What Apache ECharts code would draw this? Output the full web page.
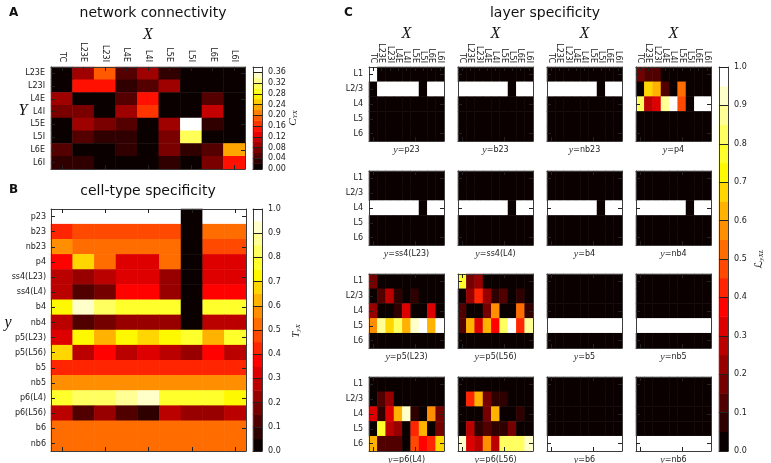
<!DOCTYPE html>
<html><head><meta charset="utf-8">
<script src="https://cdn.jsdelivr.net/npm/echarts@6/dist/echarts.min.js"></script>
<style>html,body{margin:0;padding:0;background:#fff}#c{width:771px;height:463px}</style>
</head><body><div id="c"></div>
<script>
// ---------- categories ----------
const xCats = ['TC','L23E','L23I','L4E','L4I','L5E','L5I','L6E','L6I'];
const yCatsA = ['L23E','L23I','L4E','L4I','L5E','L5I','L6E','L6I'];
const cellTypes = ['p23','b23','nb23','p4','ss4(L23)','ss4(L4)','b4','nb4','p5(L23)','p5(L56)','b5','nb5','p6(L4)','p6(L56)','b6','nb6'];
const layers = ['L1','L2/3','L4','L5','L6'];
const ticksA = [0,0.04,0.08,0.12,0.16,0.20,0.24,0.28,0.32,0.36];
const ticksUnit = [0,0.1,0.2,0.3,0.4,0.5,0.6,0.7,0.8,0.9,1.0];

// ---------- A: network connectivity C_YX (rows Y, cols X) ----------
const connectivity = [
  [0.003,0.095,0.180,0.055,0.087,0.028,0.002,0.003,0.004],
  [0.002,0.145,0.145,0.030,0.050,0.087,0.003,0.002,0.002],
  [0.095,0.002,0.003,0.055,0.145,0.002,0.001,0.045,0.003],
  [0.070,0.070,0.002,0.087,0.165,0.003,0.002,0.100,0.004],
  [0.003,0.097,0.070,0.050,0.002,0.087,0.370,0.030,0.005],
  [0.003,0.045,0.030,0.030,0.002,0.070,0.310,0.003,0.004],
  [0.040,0.002,0.003,0.030,0.002,0.070,0.025,0.045,0.235],
  [0.025,0.025,0.004,0.005,0.003,0.025,0.004,0.070,0.145]
];

// ---------- B: cell-type specificity T_yX (rows y, cols X) ----------
const cellTypeSpec = [
  [1.00,1.00,1.00,1.00,1.00,1.00,0.00,1.00,1.00],
  [0.40,0.47,0.47,0.47,0.47,0.47,0.00,0.52,0.52],
  [0.60,0.53,0.53,0.53,0.53,0.53,0.00,0.48,0.48],
  [0.38,0.67,0.53,0.32,0.32,0.53,0.00,0.32,0.32],
  [0.28,0.20,0.26,0.32,0.32,0.20,0.00,0.32,0.32],
  [0.28,0.10,0.16,0.38,0.38,0.20,0.00,0.38,0.38],
  [0.72,0.92,0.83,0.78,0.78,0.78,0.00,0.76,0.76],
  [0.28,0.10,0.16,0.23,0.23,0.23,0.00,0.27,0.27],
  [0.32,0.74,0.62,0.74,0.68,0.73,0.78,0.63,0.75],
  [0.66,0.27,0.38,0.27,0.31,0.26,0.21,0.38,0.26],
  [0.43,0.43,0.43,0.43,0.43,0.43,0.43,0.43,0.43],
  [0.55,0.55,0.55,0.55,0.55,0.55,0.55,0.55,0.55],
  [0.75,0.85,0.80,0.88,0.95,0.75,0.78,0.78,0.74],
  [0.27,0.14,0.20,0.10,0.05,0.27,0.22,0.22,0.27],
  [0.52,0.52,0.52,0.52,0.52,0.52,0.52,0.52,0.52],
  [0.52,0.52,0.52,0.52,0.52,0.52,0.52,0.52,0.52]
];

// ---------- C: layer specificity L_yXL (rows L, cols X), one per cell type ----------
const Z = [0,0,0,0,0,0,0,0,0];
const layer_p23 = [[1,0,0,0,0,0,0,0,0],[0,1,1,1,1,1,0,1,1],Z,Z,Z];
const layer_b23 = [Z,[1,1,1,1,1,1,0,1,1],Z,Z,Z];
const layer_nb23 = [Z,[1,1,1,1,1,1,0,1,1],Z,Z,Z];
const layer_p4 = [
  [0.18,0.10,0.10,0.03,0.03,0.03,0.02,0.03,0.03],
  [0.01,0.68,0.62,0.12,0.01,0.53,0.01,0.01,0.01],
  [0.82,0.27,0.32,0.88,1.00,0.46,0.01,1.00,1.00],Z,Z];
const layer_ss4L23 = [Z,Z,[1,1,1,1,1,1,0,1,1],Z,Z];
const layer_ss4L4 = [Z,Z,[1,1,1,1,1,1,0,1,1],Z,Z];
const layer_b4 = [Z,Z,[1,1,1,1,1,1,0,1,1],Z,Z];
const layer_nb4 = [Z,Z,[1,1,1,1,1,1,0,1,1],Z,Z];
const layer_p5L23 = [
  [0.18,0.02,0.01,0.01,0.01,0.01,0.01,0.01,0.01],
  [0.01,0.12,0.27,0.07,0.01,0.07,0.01,0.02,0.01],
  [0.20,0.01,0.01,0.07,0.32,0.01,0.01,0.32,0.01],
  [0.57,0.88,0.68,0.80,0.62,0.90,1.00,0.62,1.00],Z];
const layer_p5L56 = [
  [0.78,0.18,0.22,0.01,0.01,0.01,0.01,0.01,0.01],
  [0.01,0.22,0.43,0.22,0.07,0.12,0.01,0.07,0.01],
  [0.12,0.01,0.01,0.18,0.58,0.01,0.01,0.53,0.07],
  [0.12,0.62,0.32,0.62,0.38,0.82,1.00,0.43,0.88],Z];
const layer_b5 = [Z,Z,Z,[1,1,1,1,1,1,1,1,1],Z];
const layer_nb5 = [Z,Z,Z,[1,1,1,1,1,1,1,1,1],Z];
const layer_p6L4 = [Z,
  [0.01,0.12,0.20,0.01,0.01,0.01,0.01,0.01,0.01],
  [0.33,0.07,0.32,0.62,0.90,0.07,0.01,0.57,0.16],
  [0.01,0.75,0.26,0.22,0.01,0.43,0.62,0.01,0.16],
  [0.62,0.12,0.12,0.12,0.01,0.47,0.38,0.43,0.68]];
const layer_p6L56 = [Z,
  [0.01,0.43,0.62,0.18,0.07,0.07,0.01,0.01,0.01],
  [0.01,0.01,0.01,0.18,0.62,0.01,0.01,0.07,0.01],
  [0.01,0.26,0.07,0.12,0.07,0.07,0.18,0.01,0.01],
  [0.90,0.32,0.27,0.55,0.26,0.80,0.80,0.85,0.90]];
const layer_b6 = [Z,Z,Z,Z,[1,1,1,1,1,1,1,1,1]];
const layer_nb6 = [Z,Z,Z,Z,[1,1,1,1,1,1,1,1,1]];
const layerPanels = [layer_p23,layer_b23,layer_nb23,layer_p4,layer_ss4L23,layer_ss4L4,layer_b4,layer_nb4,
  layer_p5L23,layer_p5L56,layer_b5,layer_nb5,layer_p6L4,layer_p6L56,layer_b6,layer_nb6];

// ---------- colormap (matplotlib "hot", discretised) ----------
function clamp(v){return Math.max(0,Math.min(1,v));}
function hot(t){
  const r = t < 0.365079 ? 0.0416 + (1-0.0416)*t/0.365079 : 1;
  const g = clamp((t-0.365079)/(0.746032-0.365079));
  const b = clamp((t-0.746032)/(1-0.746032));
  return 'rgb(' + Math.round(r*255) + ',' + Math.round(g*255) + ',' + Math.round(b*255) + ')';
}
function pieces(max, n){
  const step = max/n, arr = [];
  for (let i=0;i<n;i++){
    const p = {gte: i===0 ? -1 : i*step, color: hot(i/(n-1))};
    if (i<n-1) p.lt = (i+1)*step; else p.lte = max*10;
    arr.push(p);
  }
  return arr;
}

// ---------- builders ----------
const grids=[], xAxes=[], yAxes=[], series=[], graphics=[];
const groupA=[], groupU=[];
const LBL = {fontFamily:'DejaVu Sans', fontSize:8, color:'#1a1a1a'};
function catAxis(gi, data, pos, extra){
  return Object.assign({
    gridIndex:gi, type:'category', data:data, position:pos, z:5,
    axisLine:{show:true,onZero:false,lineStyle:{color:'#3c3c3c',width:1}},
    axisTick:{show:true,inside:true,alignWithLabel:true,length:4,lineStyle:{color:'#222',width:1}},
    axisLabel:{show:false}, splitLine:{show:false}, splitArea:{show:false}
  }, extra||{});
}
function heat(box, xc, yc, rows, group, showX, showY, xMargin, yMargin){
  const gi = grids.length;
  grids.push({left:box[0], top:box[1], width:box[2], height:box[3]});
  const xi = xAxes.length, yi = yAxes.length;
  xAxes.push(catAxis(gi, xc, 'top', showX ? {axisLabel:Object.assign({show:true,interval:0,rotate:90,margin:xMargin}, LBL)} : {}));
  xAxes.push(catAxis(gi, xc, 'bottom'));
  yAxes.push(catAxis(gi, yc, 'left', Object.assign({inverse:true}, showY ? {axisLabel:Object.assign({show:true,interval:0,margin:yMargin}, LBL)} : {})));
  yAxes.push(catAxis(gi, yc, 'right', {inverse:true}));
  const data=[];
  rows.forEach((r,j)=>r.forEach((v,i)=>data.push([i,j,v])));
  group.push(series.length);
  series.push({type:'heatmap', xAxisIndex:xi, yAxisIndex:yi, data:data, emphasis:{disabled:true}, progressive:0, animation:false});
}
function colorbar(box, max, n, step, dec, group, showMax){
  const gi = grids.length;
  grids.push({left:box[0], top:box[1], width:box[2], height:box[3]});
  const xi = xAxes.length, yi = yAxes.length;
  const bands = Array.from({length:n},(_,i)=>'b'+i);
  xAxes.push(catAxis(gi, ['c'], 'top', {axisTick:{show:false}}));
  xAxes.push(catAxis(gi, ['c'], 'bottom', {axisTick:{show:false}}));
  yAxes.push(catAxis(gi, bands, 'left', {axisTick:{show:false}}));
  yAxes.push({gridIndex:gi, type:'value', position:'right', min:0, max:max, interval:step, z:5,
    axisLine:{show:true,onZero:false,lineStyle:{color:'#3c3c3c',width:1}},
    axisTick:{show:true,inside:true,length:box[2],lineStyle:{color:'#222',width:1}},
    axisLabel:Object.assign({show:true,margin:6,showMaxLabel:showMax,formatter:v=>v.toFixed(dec)}, LBL),
    splitLine:{show:false}});
  group.push(series.length);
  series.push({type:'heatmap', xAxisIndex:xi, yAxisIndex:yi, data:bands.map((b,i)=>[0,i,(i+0.5)*max/n]), emphasis:{disabled:true}, animation:false});
}
function txt(x, y, text, style, extra){
  return Object.assign({type:'text', x:x, y:y, silent:true, style:Object.assign({text:text, fill:'#111', align:'center', verticalAlign:'middle', fontFamily:'DejaVu Sans', fontSize:8}, style||{})}, extra||{});
}

// ---------- Panel A ----------
heat([51,67,194,102], xCats, yCatsA, connectivity, groupA, true, true, 5, 6);
colorbar([253,67,9,102], 0.38, 19, 0.04, 2, groupA, false);
graphics.push(txt(9,13,'A',{align:'left',fontWeight:'bold',fontSize:12}));
graphics.push(txt(153,13,'network connectivity',{fontSize:14}));
graphics.push(txt(148,35,'X',{fontFamily:'Liberation Serif',fontStyle:'italic',fontSize:16}));
graphics.push(txt(23,111,'Y',{fontFamily:'Liberation Serif',fontStyle:'italic',fontSize:16}));
graphics.push(txt(293,118,'{m|C}{s|YX}',{rich:{m:{fontFamily:'Liberation Serif',fontStyle:'italic',fontSize:11,fill:'#111'},s:{fontFamily:'Liberation Serif',fontStyle:'italic',fontSize:7,fill:'#111',verticalAlign:'bottom',padding:[5,0,0,0]}}},{rotation:Math.PI/2}));

// ---------- Panel B ----------
heat([51,209,195,242], xCats, cellTypes, cellTypeSpec, groupU, false, true, 5, 5);
colorbar([253,209,9,242], 1, 20, 0.1, 1, groupU, true);
graphics.push(txt(9,190,'B',{align:'left',fontWeight:'bold',fontSize:12}));
graphics.push(txt(148,191,'cell-type specificity',{fontSize:14}));
graphics.push(txt(8,323,'y',{fontFamily:'Liberation Serif',fontStyle:'italic',fontSize:16}));
graphics.push(txt(296,331,'{m|T}{s|yX}',{rich:{m:{fontFamily:'Liberation Serif',fontStyle:'italic',fontSize:11,fill:'#111'},s:{fontFamily:'Liberation Serif',fontStyle:'italic',fontSize:7,fill:'#111',verticalAlign:'bottom',padding:[5,0,0,0]}}},{rotation:Math.PI/2}));

// ---------- Panel C ----------
const cLeft = [369,458,547,636], cTop = [67,171,274,377];
layerPanels.forEach((rows,k)=>{
  const r = Math.floor(k/4), c = k%4;
  heat([cLeft[c], cTop[r], 75, 74], xCats, layers, rows, groupU, r===0, c===0, 4, 6);
  graphics.push(txt(cLeft[c]+37.5, cTop[r]+83, '{i|y}{n|=}{t|'+cellTypes[k]+'}',
    {rich:{i:{fontFamily:'Liberation Serif',fontStyle:'italic',fontSize:10,fill:'#333'},n:{fontFamily:'DejaVu Sans',fontSize:8,fill:'#333'},t:{fontFamily:'DejaVu Sans',fontSize:8,fill:'#222'}}}));
  if (r===0) graphics.push(txt(cLeft[c]+37.5,34,'X',{fontFamily:'Liberation Serif',fontStyle:'italic',fontSize:16}));
});
colorbar([719,67,9,384], 1, 20, 0.1, 1, groupU, true);
graphics.push(txt(344,13,'C',{align:'left',fontWeight:'bold',fontSize:12}));
graphics.push(txt(545,13,'layer specificity',{fontSize:14}));
graphics.push(txt(759,259,'{m|ℒ}{s|yXL}',{rich:{m:{fontFamily:'DejaVu Sans',fontSize:11,fill:'#111'},s:{fontFamily:'Liberation Serif',fontStyle:'italic',fontSize:7,fill:'#111',verticalAlign:'bottom',padding:[5,0,0,0]}}},{rotation:Math.PI/2}));

const chart = echarts.init(document.getElementById('c'), null, {renderer:'canvas'});
chart.setOption({
  animation:false,
  backgroundColor:'#fff',
  grid:grids, xAxis:xAxes, yAxis:yAxes, series:series,
  visualMap:[
    {type:'piecewise', show:false, dimension:2, seriesIndex:groupA, pieces:pieces(0.38,19)},
    {type:'piecewise', show:false, dimension:2, seriesIndex:groupU, pieces:pieces(1,20)}
  ],
  graphic:graphics
});
</script></body></html>
